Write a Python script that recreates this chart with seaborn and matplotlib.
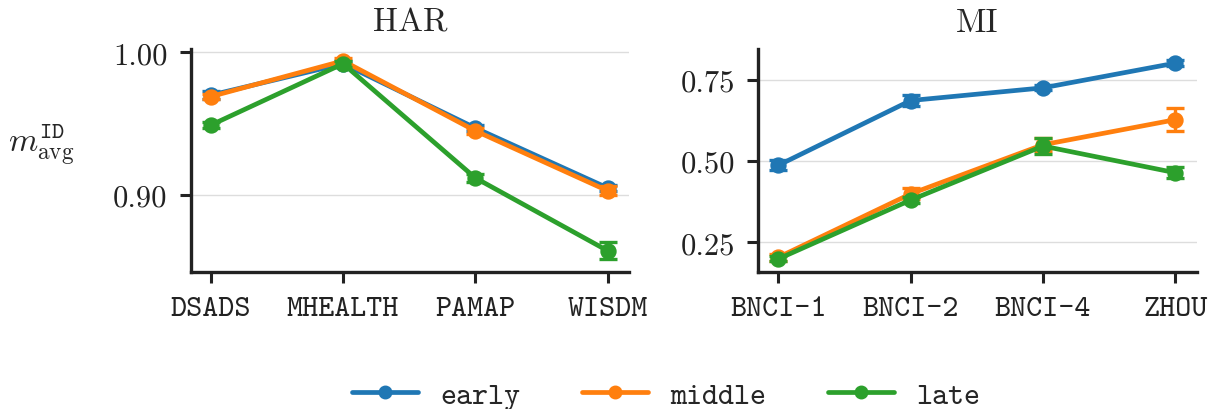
import numpy as np
import pandas as pd
import matplotlib
matplotlib.use("Agg")
import matplotlib.pyplot as plt
from matplotlib.lines import Line2D
import seaborn as sns

# --- data -------------------------------------------------------------
variants = ["early", "middle", "late"]

har_datasets = ["DSADS", "MHEALTH", "PAMAP", "WISDM"]
har_early = [0.970, 0.992, 0.947, 0.905]
har_middle = [0.969, 0.994, 0.945, 0.903]
har_late = [0.949, 0.992, 0.912, 0.861]
har_early_err = [0.003, 0.002, 0.002, 0.002]
har_middle_err = [0.002, 0.002, 0.002, 0.003]
har_late_err = [0.002, 0.002, 0.003, 0.006]

mi_datasets = ["BNCI-1", "BNCI-2", "BNCI-4", "ZHOU"]
mi_early = [0.487, 0.686, 0.725, 0.801]
mi_middle = [0.204, 0.399, 0.550, 0.627]
mi_late = [0.199, 0.380, 0.546, 0.464]
mi_early_err = [0.015, 0.017, 0.008, 0.010]
mi_middle_err = [0.010, 0.017, 0.020, 0.036]
mi_late_err = [0.008, 0.010, 0.024, 0.017]

har_yticks = [0.90, 1.00]
mi_yticks = [0.25, 0.50, 0.75]

colors = ["#1f77b4", "#ff7f0e", "#2ca02c"]

# --- style ------------------------------------------------------------
sns.set_theme(style="ticks")
plt.rcParams.update({
    "font.family": ["cmr10", "DejaVu Serif"],
    "mathtext.fontset": "cm",
    "axes.formatter.use_mathtext": True,
    "font.size": 11,
    "axes.linewidth": 1.2,
    "xtick.major.size": 3.8,
    "ytick.major.size": 3.8,
    "xtick.major.width": 1.1,
    "ytick.major.width": 1.1,
    "xtick.color": "#222222",
    "ytick.color": "#222222",
    "axes.edgecolor": "#222222",
})


def long_frame(datasets, series):
    rows = []
    for name, vals in zip(variants, series):
        for d, v in zip(datasets, vals):
            rows.append({"dataset": d, "variant": name, "value": v})
    return pd.DataFrame(rows)


fig = plt.figure(figsize=(6.055, 2.05), dpi=200)
ax_har = fig.add_axes([0.1575, 0.3349, 0.3619, 0.5431])
ax_mi = fig.add_axes([0.6262, 0.3349, 0.3620, 0.5431])

panels = [
    (ax_har, "HAR", har_datasets, [har_early, har_middle, har_late],
     [har_early_err, har_middle_err, har_late_err], har_yticks, (0.8463, 1.0023)),
    (ax_mi, "MI", mi_datasets, [mi_early, mi_middle, mi_late],
     [mi_early_err, mi_middle_err, mi_late_err], mi_yticks, (0.1596, 0.8444)),
]

LW = 1.7
MS = 4.6

for ax, title, datasets, series, errs, yticks, ylim in panels:
    df = long_frame(datasets, series)
    ax.yaxis.grid(True, color="#dddddd", linewidth=0.5, zorder=0)
    ax.set_axisbelow(True)
    sns.pointplot(data=df, x="dataset", y="value", hue="variant",
                  hue_order=variants, palette=colors, errorbar=None,
                  markers="o", markersize=MS, linewidth=LW, ax=ax)
    for i, line in enumerate(ax.lines):
        line.set_zorder(3 + i)
    pos = np.arange(len(datasets))
    for i, (vals, err) in enumerate(zip(series, errs)):
        ax.errorbar(pos, vals, yerr=err, fmt="none", ecolor=colors[i],
                    elinewidth=1.2, capsize=3.2, capthick=1.2,
                    zorder=2.9 + i)
    ax.set_xlim(-0.152, 3.162)
    ax.set_ylim(*ylim)
    ax.set_yticks(yticks)
    ax.set_yticklabels([f"{t:.2f}" for t in yticks])
    ax.set_xticks(pos)
    ax.set_xticklabels(datasets, family="cmtt10")
    ax.tick_params(axis="y", pad=4.5)
    ax.tick_params(axis="x", pad=5.0)
    ax.set_xlabel("")
    ax.set_ylabel("")
    ax.set_title(title, pad=6.5)
    sns.despine(ax=ax)
    if ax.get_legend() is not None:
        ax.get_legend().remove()

ax_har.set_ylabel(r"$m_{\mathrm{avg}}^{\mathtt{ID}}$", rotation=0,
                  ha="right", va="center")
ax_har.yaxis.set_label_coords(-0.266, 0.573)

handles = [Line2D([], [], color=c, linewidth=LW, marker="o", markersize=4.0)
           for c in colors]
fig.legend(handles, variants, loc="center", bbox_to_anchor=(0.55, 0.032),
           ncol=3, frameon=False, handlelength=2.16, handletextpad=0.75,
           columnspacing=2.0, prop={"family": "cmtt10", "size": 11})

fig.savefig("out.png", dpi=200)
